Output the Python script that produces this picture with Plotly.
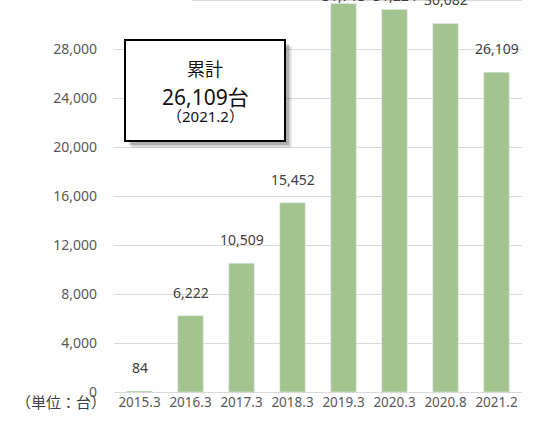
import plotly.graph_objects as go

categories = ["2015.3", "2016.3", "2017.3", "2018.3", "2019.3", "2020.3", "2020.8", "2021.2"]
values = [84, 6222, 10509, 15452, 31713, 31224, 30082, 26109]
y_ticks = [0, 4000, 8000, 12000, 16000, 20000, 24000, 28000]
y_tick_labels = [f"{v:,}" for v in y_ticks]
unit_label = "（単位：台）"
box_lines = ["累計", "26,109台", "（2021.2）"]

W, H = 536, 426
ML, MR, MT, MB = 114, 14, 0, 34
PW, PH = W - ML - MR, H - MT - MB
Y_MAX = 32000

FONT = "Noto Sans, Noto Sans CJK JP, sans-serif"
BAR = "#A3C48F"
GRID = "#D9D9D9"
TXT = "#595959"


def px_x(x):
    return (x - ML) / PW


def px_y(y):
    return (H - MB - y) / PH


fig = go.Figure(go.Bar(
    x=categories, y=values, marker_color=BAR, width=0.5,
    hoverinfo="skip",
))

# label clamp (labels stay inside the chart area, like the original)
cap = Y_MAX - 17.5 / PH * Y_MAX
annotations = []
for i, v in enumerate(values):
    annotations.append(dict(
        x=i, y=min(v, cap), xref="x", yref="y", text=f"{v:,}",
        showarrow=False, yanchor="bottom", yshift=12 if v < cap else 11,
        font=dict(family=FONT, size=14, color="#404040"),
    ))

annotations.append(dict(
    x=px_x(108), y=px_y(402), xref="paper", yref="paper", text=unit_label,
    showarrow=False, xanchor="right", yanchor="middle",
    font=dict(family=FONT, size=15, color="#404040"),
))

box_cx = px_x(205)
for txt, yc, sz in zip(box_lines, [69, 96.5, 116], [18, 21, 15]):
    annotations.append(dict(
        x=box_cx, y=px_y(yc), xref="paper", yref="paper", text=txt,
        showarrow=False, xanchor="center", yanchor="middle",
        font=dict(family=FONT, size=sz, color="#111111"),
    ))

bx0, bx1, by0, by1 = 125, 285, 40, 141
shapes = []
# soft shadow
for off, op in [(7, 0.07), (5.5, 0.11), (4, 0.17)]:
    shapes.append(dict(
        type="rect", xref="paper", yref="paper", layer="above",
        x0=px_x(bx0 + off), x1=px_x(bx1 + off), y0=px_y(by1 + off), y1=px_y(by0 + off),
        fillcolor=f"rgba(0,0,0,{op})", line=dict(width=0),
    ))
shapes.append(dict(
    type="rect", xref="paper", yref="paper", layer="above",
    x0=px_x(bx0), x1=px_x(bx1), y0=px_y(by1), y1=px_y(by0),
    fillcolor="white", line=dict(color="black", width=2),
))
# top gridline (partially visible in the original)
shapes.append(dict(
    type="line", xref="paper", yref="paper", layer="below",
    x0=px_x(192), x1=1, y0=1, y1=1, line=dict(color=GRID, width=2),
))

fig.update_layout(
    width=W, height=H,
    margin=dict(l=ML, r=MR, t=MT, b=MB, pad=0),
    paper_bgcolor="white", plot_bgcolor="white",
    showlegend=False, bargap=0.5,
    annotations=annotations, shapes=shapes,
    font=dict(family=FONT, size=14, color=TXT),
)
fig.update_xaxes(
    type="category", range=[-0.5, len(categories) - 0.5],
    showgrid=False, showline=False, zeroline=False,
    ticks="", tickfont=dict(family=FONT, size=13.5, color=TXT),
    ticklabelstandoff=0,
)
fig.update_yaxes(
    range=[0, Y_MAX], tickvals=y_ticks, ticktext=y_tick_labels,
    showgrid=True, gridcolor=GRID, gridwidth=1,
    zeroline=True, zerolinecolor=GRID, zerolinewidth=1,
    showline=False, ticks="", ticklabelstandoff=16,
    tickfont=dict(family=FONT, size=14, color=TXT),
)

fig.write_html(
    "out.html",
    config={"displayModeBar": False},
    post_script="document.body.style.margin='0';document.body.style.overflow='hidden';",
)
